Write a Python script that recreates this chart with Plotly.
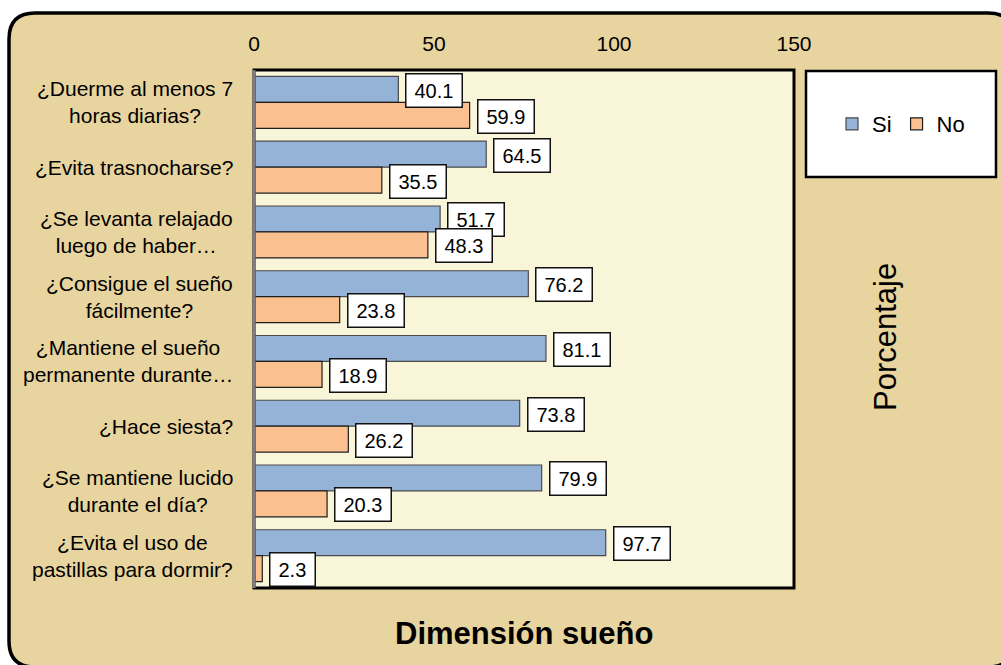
import plotly.graph_objects as go

# Survey data: percentage of "Si" / "No" answers per sleep question
categorias = [
    "¿Duerme al menos 7<br>horas diarias?",
    "¿Evita trasnocharse?",
    "¿Se levanta relajado<br>luego de haber…",
    "¿Consigue el sueño<br>fácilmente?",
    "¿Mantiene el sueño<br>permanente durante…",
    "¿Hace siesta?",
    "¿Se mantiene lucido<br>durante el día?",
    "¿Evita el uso de<br>pastillas para dormir?",
]
si = [40.1, 64.5, 51.7, 76.2, 81.1, 73.8, 79.9, 97.7]
no = [59.9, 35.5, 48.3, 23.8, 18.9, 26.2, 20.3, 2.3]
x_ticks = [0, 50, 100, 150]

FONT = "Arial, Liberation Sans, sans-serif"
W, H = 1001, 665
# plot area in pixels
L, R, T, B = 254, 794, 70, 588

def px(xp):
    return (xp - L) / (R - L)

def py(yp):
    return (B - yp) / (B - T)

pos = list(range(len(categorias)))

fig = go.Figure()
fig.add_trace(go.Bar(
    name="Si", y=pos, x=si, orientation="h",
    marker=dict(color="#95B3D7", line=dict(color="#4a4a4a", width=1.2)),
))
fig.add_trace(go.Bar(
    name="No", y=pos, x=no, orientation="h",
    marker=dict(color="#FAC090", line=dict(color="#1e1e1e", width=1.2)),
))

annotations = []

# category labels, centred block to the left of the axis
for i, c in enumerate(categorias):
    annotations.append(dict(
        x=0, xref="paper", y=i, yref="y", text=c, showarrow=False,
        xanchor="right", yanchor="middle", align="center", xshift=-19,
        font=dict(family=FONT, size=21, color="#000000"),
    ))

# boxed value labels next to each bar
LABEL_FS = 20

def label_width(s):
    w = 0.0
    for ch in s:
        w += 0.278 * LABEL_FS if ch == "." else 0.556 * LABEL_FS
    return w + 10

for values, off in ((si, -0.2), (no, 0.2)):
    for i, v in enumerate(values):
        txt = f"{v:.1f}"
        annotations.append(dict(
            x=v, xref="x", y=i + off, yref="y", text=txt, showarrow=False,
            xanchor="left", yanchor="middle", xshift=7, yshift=-1,
            bgcolor="white", bordercolor="#111111", borderwidth=1.5,
            borderpad=3, width=label_width(txt), height=26,
            font=dict(family=FONT, size=LABEL_FS, color="#000000"),
        ))

annotations.append(dict(
    x=px(524), y=py(633), xref="paper", yref="paper",
    text="<b>Dimensión sueño</b>", showarrow=False,
    xanchor="center", yanchor="middle",
    font=dict(family=FONT, size=31, color="#000000"),
))
annotations.append(dict(
    x=px(885), y=py(337), xref="paper", yref="paper",
    text="Porcentaje", textangle=-90, showarrow=False,
    xanchor="center", yanchor="middle",
    font=dict(family=FONT, size=31, color="#000000"),
))

def rounded_rect(x0, y0, x1, y1, r):
    a0, a1 = px(x0), px(x1)
    b0, b1 = py(y0), py(y1)
    rx = r / (R - L)
    ry = r / (B - T)
    return (
        f"M {a0+rx},{b0} L {a1-rx},{b0} Q {a1},{b0} {a1},{b0-ry} "
        f"L {a1},{b1+ry} Q {a1},{b1} {a1-rx},{b1} "
        f"L {a0+rx},{b1} Q {a0},{b1} {a0},{b1+ry} "
        f"L {a0},{b0-ry} Q {a0},{b0} {a0+rx},{b0} Z"
    )

shapes = [
    # outer rounded panel
    dict(type="path", xref="paper", yref="paper", layer="below",
         path=rounded_rect(9, 13, 1014, 667, 26),
         fillcolor="#E8D49E", line=dict(color="#000000", width=3.5)),
    # plot area background
    dict(type="rect", xref="paper", yref="paper", layer="below",
         x0=0, x1=1, y0=0, y1=1, fillcolor="#F8F5D9", line=dict(width=0)),
    # plot area frame
    dict(type="rect", xref="paper", yref="paper", layer="above",
         x0=0, x1=1, y0=0, y1=1, line=dict(color="#000000", width=3)),
    dict(type="line", xref="paper", yref="paper", layer="above",
         x0=0, x1=0, y0=0, y1=1, line=dict(color="#7f7f7f", width=3)),
    # legend box
    dict(type="rect", xref="paper", yref="paper", layer="below",
         x0=px(806), x1=px(996), y0=py(177), y1=py(71),
         fillcolor="white", line=dict(color="#000000", width=2.5)),
]

fig.update_layout(
    width=W, height=H,
    margin=dict(l=L, r=W - R, t=T, b=H - B, pad=0),
    paper_bgcolor="white",
    plot_bgcolor="rgba(0,0,0,0)",
    barmode="group", bargap=0.2, bargroupgap=0,
    font=dict(family=FONT, color="#000000"),
    xaxis=dict(
        range=[0, 150], side="top", tickvals=x_ticks,
        showgrid=False, zeroline=False, showline=False, ticks="",
        ticklabelstandoff=14,
        tickfont=dict(family=FONT, size=21, color="#000000"),
    ),
    yaxis=dict(
        range=[len(categorias) - 0.5, -0.5], showticklabels=False,
        showgrid=False, zeroline=False, showline=False, ticks="",
    ),
    legend=dict(
        orientation="h", x=px(901), y=py(124), xanchor="center", yanchor="middle",
        bgcolor="rgba(0,0,0,0)", font=dict(family=FONT, size=22, color="#000000"),
        traceorder="normal",
    ),
    shapes=shapes,
    annotations=annotations,
)

fig.write_html("out.html")
